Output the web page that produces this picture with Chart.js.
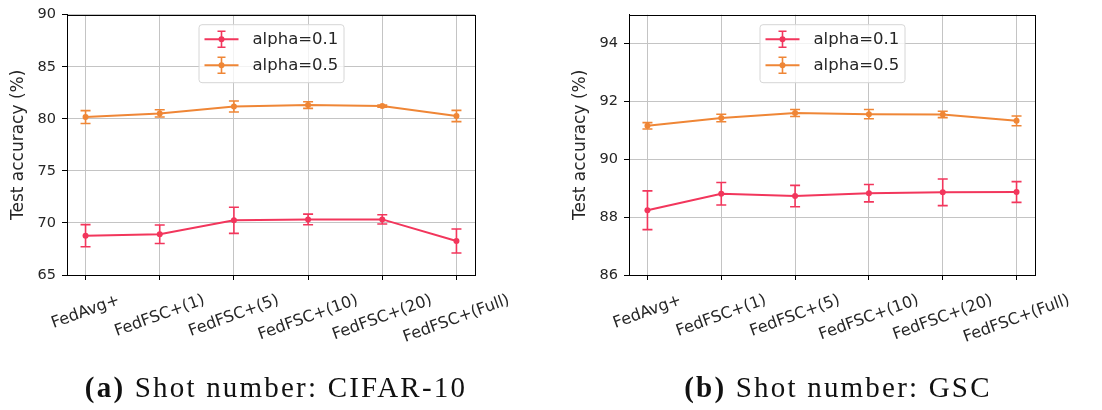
<!DOCTYPE html>
<html>
<head>
<meta charset="utf-8">
<script src="https://cdn.jsdelivr.net/npm/chart.js@4.4.1/dist/chart.umd.min.js"></script>
<style>
  html, body { margin: 0; padding: 0; background: #fff; }
  #wrap { position: relative; width: 1102px; height: 410px; overflow: hidden; }
  canvas { position: absolute; top: 0; }
  #cA { left: 0; }
  #cB { left: 551px; }
  .cap {
    position: absolute; top: 371px; width: 500px; text-align: center;
    font-family: "Liberation Serif", serif; font-size: 29px; letter-spacing: 2.2px;
    color: #111; white-space: nowrap;
  }
  .cap b { font-weight: bold; }
</style>
</head>
<body>
<div id="wrap">
  <canvas id="cA" width="551" height="410"></canvas>
  <canvas id="cB" width="551" height="410"></canvas>
  <div class="cap" style="left:26px"><b>(a)</b> Shot number: CIFAR-10</div>
  <div class="cap" style="left:588px"><b>(b)</b> Shot number: GSC</div>
</div>
<script>
// ── Data ────────────────────────────────────────────────────────────────────
const categories = ["FedAvg+", "FedFSC+(1)", "FedFSC+(5)", "FedFSC+(10)", "FedFSC+(20)", "FedFSC+(Full)"];
const seriesLabels = ["alpha=0.1", "alpha=0.5"];

const cifarAlpha01    = [68.78, 68.91, 70.25, 70.34, 70.34, 68.27];
const cifarAlpha01Err = [1.06, 0.89, 1.25, 0.51, 0.44, 1.15];
const cifarAlpha05    = [80.17, 80.52, 81.18, 81.32, 81.22, 80.27];
const cifarAlpha05Err = [0.62, 0.35, 0.53, 0.32, 0.10, 0.54];

const gscAlpha01    = [88.24, 88.81, 88.73, 88.83, 88.86, 88.87];
const gscAlpha01Err = [0.67, 0.39, 0.37, 0.30, 0.46, 0.36];
const gscAlpha05    = [91.16, 91.43, 91.60, 91.56, 91.55, 91.33];
const gscAlpha05Err = [0.11, 0.13, 0.12, 0.16, 0.11, 0.17];

const cifarTicks = [65, 70, 75, 80, 85, 90];
const gscTicks = [86, 88, 90, 92, 94];

const RED = "#f2365c";
const ORANGE = "#ef8636";
const FONT = "'DejaVu Sans', sans-serif";
const GRID = "#c4c4c4";

// ── Plugins ─────────────────────────────────────────────────────────────────
// error bars with caps, drawn through the chart's own scales
const errorBars = {
  id: "errorBars",
  afterDatasetsDraw(chart) {
    const { ctx, scales: { x, y } } = chart;
    chart.data.datasets.forEach((ds) => {
      ctx.save();
      ctx.strokeStyle = ds.borderColor;
      ctx.lineWidth = 1.6;
      ds.data.forEach((pt, j) => {
        const px = x.getPixelForValue(pt.x);
        const top = y.getPixelForValue(pt.y + ds.errors[j]);
        const bot = y.getPixelForValue(pt.y - ds.errors[j]);
        ctx.beginPath();
        ctx.moveTo(px, top); ctx.lineTo(px, bot);
        ctx.moveTo(px - 5, top); ctx.lineTo(px + 5, top);
        ctx.moveTo(px - 5, bot); ctx.lineTo(px + 5, bot);
        ctx.stroke();
      });
      ctx.restore();
    });
  }
};

// frame, rotated category labels (centred like matplotlib) and legend
const decorations = {
  id: "decorations",
  afterDraw(chart) {
    const { ctx, chartArea: a, scales: { x } } = chart;
    ctx.save();
    // frame
    ctx.strokeStyle = "#000";
    ctx.lineWidth = 1;
    ctx.strokeRect(Math.round(a.left) + 0.5, Math.round(a.top) + 0.5,
      Math.round(a.right - a.left), Math.round(a.bottom - a.top));

    // x labels
    const th = 20 * Math.PI / 180;
    ctx.font = "16px " + FONT;
    ctx.fillStyle = "#262626";
    ctx.textAlign = "center";
    ctx.textBaseline = "middle";
    categories.forEach((lab, i) => {
      const w = ctx.measureText(lab).width;
      const bh = w * Math.sin(th) + 18.6 * Math.cos(th);
      const cx = x.getPixelForValue(i);
      const cy = a.bottom + 16 + bh / 2;
      ctx.save();
      ctx.translate(cx, cy);
      ctx.rotate(-th);
      ctx.fillText(lab, 0, 0);
      ctx.restore();
    });

    // legend (upper center)
    const bw = 145, bh = 58;
    const bx = (a.left + a.right) / 2 - bw / 2;
    const by = a.top + 9.5;
    ctx.beginPath();
    ctx.roundRect(bx + 0.5, by + 0.5, bw, bh, 3);
    ctx.fillStyle = "rgba(255,255,255,0.8)";
    ctx.fill();
    ctx.strokeStyle = "#d6d6d6";
    ctx.stroke();
    ctx.font = "16.5px " + FONT;
    ctx.textAlign = "left";
    ctx.textBaseline = "middle";
    chart.data.datasets.forEach((ds, i) => {
      const ry = by + 15 + i * 26;
      const hx0 = bx + 6, hx1 = bx + 40, hm = (hx0 + hx1) / 2;
      ctx.strokeStyle = ds.borderColor;
      ctx.fillStyle = ds.borderColor;
      ctx.lineWidth = 2;
      ctx.beginPath(); ctx.moveTo(hx0, ry); ctx.lineTo(hx1, ry); ctx.stroke();
      ctx.lineWidth = 1.6;
      ctx.beginPath();
      ctx.moveTo(hm, ry - 8); ctx.lineTo(hm, ry + 8);
      ctx.moveTo(hm - 4, ry - 8); ctx.lineTo(hm + 4, ry - 8);
      ctx.moveTo(hm - 4, ry + 8); ctx.lineTo(hm + 4, ry + 8);
      ctx.stroke();
      ctx.beginPath(); ctx.arc(hm, ry, 3, 0, Math.PI * 2); ctx.fill();
      ctx.fillStyle = "#262626";
      ctx.fillText(ds.label, bx + 54, ry + 1);
    });
    ctx.restore();
  }
};

// ── Chart builder ───────────────────────────────────────────────────────────
function makeDataset(label, values, errors, color) {
  return {
    label,
    data: values.map((v, i) => ({ x: i, y: v })),
    errors,
    borderColor: color,
    backgroundColor: color,
    borderWidth: 2,
    pointRadius: 3,
    pointBorderWidth: 0,
    tension: 0,
  };
}

function makeChart(canvasId, series, yMin, yMax, yTicks, pad) {
  const ctx = document.getElementById(canvasId).getContext("2d");
  return new Chart(ctx, {
    type: "line",
    data: {
      datasets: series.map(s => makeDataset(s.label, s.values, s.errors, s.color))
    },
    options: {
      responsive: false,
      animation: false,
      layout: { padding: pad },
      scales: {
        x: {
          type: "linear",
          min: -0.25, max: 5.25,
          afterBuildTicks: (s) => { s.ticks = categories.map((_, i) => ({ value: i })); },
          afterFit: (s) => { s.height = 40; },
          ticks: { display: false },
          grid: { color: GRID, lineWidth: 1, tickColor: "#000", tickLength: 5 },
          border: { display: true, color: "#000" },
        },
        y: {
          min: yMin, max: yMax,
          afterBuildTicks: (s) => { s.ticks = yTicks.map(v => ({ value: v })); },
          afterFit: (s) => { s.width = 67; },
          ticks: { color: "#262626", font: { family: FONT, size: 14.5 }, padding: 6 },
          grid: { color: GRID, lineWidth: 1, tickColor: "#000", tickLength: 5 },
          border: { display: true, color: "#000" },
          title: {
            display: true, text: "Test accuracy (%)", color: "#262626",
            font: { family: FONT, size: 17 }, padding: { top: 8, bottom: 0 }
          }
        }
      },
      plugins: { legend: { display: false }, tooltip: { enabled: false } }
    },
    plugins: [errorBars, decorations]
  });
}

makeChart("cA", [
  { label: seriesLabels[0], values: cifarAlpha01, errors: cifarAlpha01Err, color: RED },
  { label: seriesLabels[1], values: cifarAlpha05, errors: cifarAlpha05Err, color: ORANGE },
], 65, 90, cifarTicks, { left: 0, right: 76, top: 13, bottom: 95 });

makeChart("cB", [
  { label: seriesLabels[0], values: gscAlpha01, errors: gscAlpha01Err, color: RED },
  { label: seriesLabels[1], values: gscAlpha05, errors: gscAlpha05Err, color: ORANGE },
], 86, 95, gscTicks, { left: 11, right: 67, top: 5, bottom: 95 });
</script>
</body>
</html>
